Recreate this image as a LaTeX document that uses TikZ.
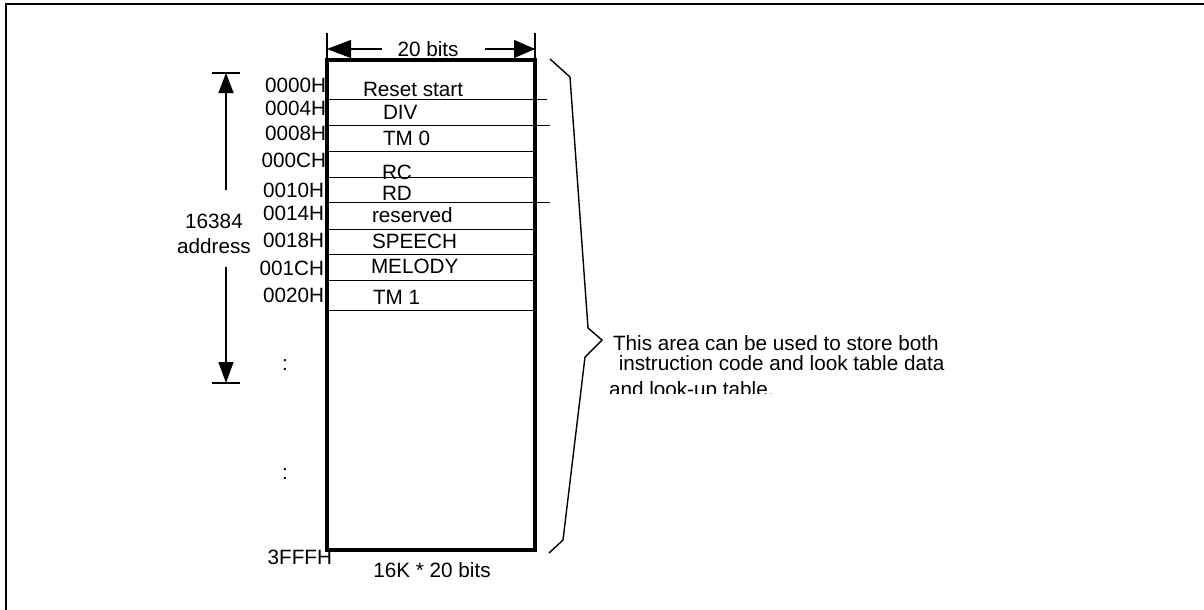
\documentclass[tikz,border=0pt]{standalone}
\usepackage{fontspec}
\setmainfont{Liberation Sans}
\usetikzlibrary{arrows.meta}
\begin{document}
\begin{tikzpicture}[x=1pt,y=-1pt,
  lbl/.style={font=\fontsize{20.7}{24}\selectfont, inner sep=0pt, outer sep=0pt},
  addr/.style={lbl, anchor=east},
  cell/.style={lbl, anchor=west},
  rowline/.style={line width=1pt},
  dimline/.style={line width=1.2pt},
  bigtip/.style={-{Triangle[length=#1,width=15pt]}},
  toptip/.style={-{Triangle[length=#1,width=18pt]}}
]
\useasboundingbox (0,0) rectangle (1204,610);
% frame
\draw[line width=2pt] (1210,4) -- (6,4) -- (6,615);

% memory block
\node[draw, line width=4pt, minimum width=208pt, minimum height=490pt,
      inner sep=0pt, outer sep=0pt, anchor=north west] (mem) at (327,60) {};

% row separators
\foreach \y/\xe in {99.5/547,125/550,151/535,177/535,202/550,229/535,254/535,280/535,310/535}
  \draw[rowline] (mem.west |- 0,\y) -- (\xe,\y);

% cell labels
\node[cell] (c0) at (363,89) {Reset start};
\node[cell] (c1) at (383,112) {DIV};
\node[cell] (c2) at (383,138) {TM 0};
\node[cell] (c3) at (382,172) {RC};
\node[cell] (c4) at (382,193) {RD};
\node[cell] (c5) at (372,215) {reserved};
\node[cell] (c6) at (372,241) {SPEECH};
\node[cell] (c7) at (371,266) {MELODY};
\node[cell] (c8) at (373,297) {TM 1};

% address labels
\node[addr] (a0) at (326,85) {0000H};
\node[addr] (a1) at (326,108) {0004H};
\node[addr] (a2) at (326,133) {0008H};
\node[addr] (a3) at (326,160) {000CH};
\node[addr] (a4) at (324,190) {0010H};
\node[addr] (a5) at (324,213) {0014H};
\node[addr] (a6) at (324,240) {0018H};
\node[addr] (a7) at (324,268) {001CH};
\node[addr] (a8) at (324,295) {0020H};
\node[lbl] (d1) at (285,365) {:};
\node[lbl] (d2) at (285,474) {:};
\node[addr] (a9) at (332,557) {3FFFH};
\node[lbl] (size) at (432,570) {16K * 20 bits};

% top dimension
\coordinate (tl) at (327,49);
\coordinate (tr) at (535,49);
\draw[dimline] (327,33) -- (327,60);
\draw[dimline] (535,33) -- (535,60);
\node[lbl] (bits) at (428,49) {20 bits};
\draw[dimline, toptip=24pt] (382,49) -- (tl);
\draw[dimline, toptip=21pt] (485,49) -- (tr);

% left address range
\node[lbl, align=center] (range) at (214,234) {16384\\[1pt]address};
\coordinate (rtop) at (226,73);
\coordinate (rbot) at (226,383);
\draw[dimline] (212,73) -- (240,73);
\draw[dimline] (212,383) -- (240,383);
\draw[dimline, bigtip=20pt] (226,190) -- (rtop);
\draw[dimline, bigtip=21pt] (226,267) -- (rbot);

% brace
\coordinate (brtip) at (602,340);
\draw[line width=1.4pt] (550,59) -- (570,77) -- (588,328) -- (brtip) -- (585,357) -- (563,540) -- (549,553);

% description text
\node[lbl, anchor=base west] (t1) at (613,350) {This area can be used to store both};
\node[lbl, anchor=base west] (t2) at (613,370) {\ instruction code and look table data};
\begin{scope}
  \clip (600,375) rectangle (1000,393);
  \node[lbl, anchor=base west] (t3) at (609,396) {and look-up table.};
\end{scope}
\end{tikzpicture}
\end{document}
